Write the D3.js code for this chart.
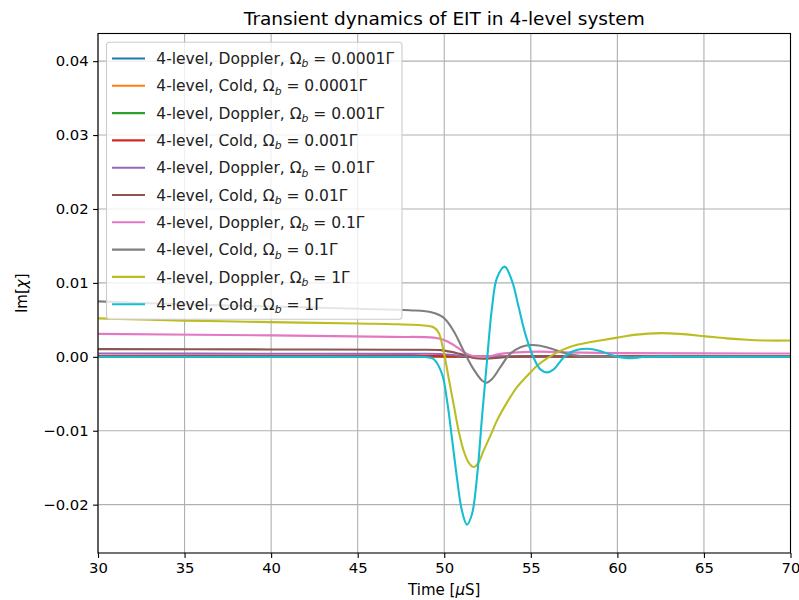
<!DOCTYPE html>
<html>
<head>
<meta charset="utf-8">
<script src="https://cdn.jsdelivr.net/npm/d3@7"></script>
<style>
  html, body { margin: 0; padding: 0; background: #fff; }
  svg { display: block; font-family: "DejaVu Sans", sans-serif; }
</style>
</head>
<body>
<svg id="chart" width="799" height="600"></svg>
<script>
// Tick values
const xTicks = [30, 35, 40, 45, 50, 55, 60, 65, 70];
const yTicks = [-0.02, -0.01, 0.00, 0.01, 0.02, 0.03, 0.04];

// Legend labels: [prefix, coupling strength]
const seriesNames = [
  ["4-level, Doppler, ", "0.0001"],
  ["4-level, Cold, ", "0.0001"],
  ["4-level, Doppler, ", "0.001"],
  ["4-level, Cold, ", "0.001"],
  ["4-level, Doppler, ", "0.01"],
  ["4-level, Cold, ", "0.01"],
  ["4-level, Doppler, ", "0.1"],
  ["4-level, Cold, ", "0.1"],
  ["4-level, Doppler, ", "1"],
  ["4-level, Cold, ", "1"]
];
const seriesColors = ["#1f77b4", "#ff7f0e", "#2ca02c", "#d62728", "#9467bd",
                      "#8c564b", "#e377c2", "#7f7f7f", "#bcbd22", "#17becf"];

// Time samples (µs) shared by the weak-probe traces
const tWeak = [30, 40, 48, 49.8, 50.9, 51.8, 53, 55, 70];
const vDoppler00001 = [0.000004, 0.000004, 0.000004, 0.000004, 0.000002, 0, 0, 0.000001, 0.000001];
const vCold00001    = [0.00001, 0.00001, 0.00001, 0.00001, 0.000005, 0, 0, 0.000002, 0.000002];
const vDoppler0001  = [0.00004, 0.00004, 0.000038, 0.000036, 0.000015, 0, 0, 0.000005, 0.000005];
const vCold0001     = [0.00012, 0.00011, 0.0001, 0.0001, 0.00004, 0, 0, 0.00001, 0.00001];
const vDoppler001   = [0.00045, 0.00042, 0.0004, 0.00038, 0.00015, -0.00002, 0.00003, 0.00005, 0.00005];

// Cold, Ωb = 0.01Γ
const tCold001 = [30, 40, 48, 49.8, 50.9, 51.8, 52.8, 53.8, 55, 57, 70];
const vCold001 = [0.00104, 0.001, 0.00095, 0.0009, 0.0004, -0.0002, -0.0002, 0.0000, 0.0001, 0.0001, 0.0001];

// Doppler, Ωb = 0.1Γ
const tDoppler01 = [30, 40, 47, 49.4, 49.96, 50.4, 50.73, 51.31, 51.89, 52.5, 53.24, 54.2, 55.5, 57, 60, 70];
const vDoppler01 = [0.0031, 0.0029, 0.0027, 0.0026, 0.0023, 0.0018, 0.0013, 0.0004, 0.0000, 0.0000, 0.0004, 0.0006, 0.0007, 0.0006, 0.0005, 0.00045];

// Cold, Ωb = 0.1Γ
const tCold01 = [30, 35, 40, 45, 48, 49.3, 49.96, 50.54, 51.12, 51.7, 52.18, 52.43, 52.76, 53.24, 53.8, 54.4, 54.97, 55.55, 56.32, 57.1, 57.9, 59, 62, 70];
const vCold01 = [0.0075, 0.0071, 0.0068, 0.0065, 0.0063, 0.0060, 0.0053, 0.0035, 0.0008, -0.0017, -0.0032, -0.0035, -0.0030, -0.0014, 0.0004, 0.0013, 0.0016, 0.0015, 0.0010, 0.0004, 0.0001, 0.00003, 0, 0];

// Doppler, Ωb = 1Γ
const tDoppler1 = [30, 35, 40, 45, 47.3, 49.0, 49.38, 49.67, 49.96, 50.25, 50.54, 50.83, 51.12, 51.41, 51.70, 51.98, 52.27, 52.66, 53.05, 53.62, 54.2, 54.78, 55.36, 55.94, 56.7, 57.47, 58.25, 59.0, 60.0, 61.1, 62.5, 63.6, 65.0, 66.3, 67.5, 68.65, 70];
const vDoppler1 = [0.0052, 0.0049, 0.0047, 0.0045, 0.0044, 0.0042, 0.0040, 0.0033, 0.0008, -0.0028, -0.0064, -0.0100, -0.0127, -0.0143, -0.0149, -0.0143, -0.0127, -0.0107, -0.0086, -0.0062, -0.0041, -0.0026, -0.0012, -0.0002, 0.0008, 0.0015, 0.0019, 0.0022, 0.0026, 0.0030, 0.0032, 0.0031, 0.0028, 0.0025, 0.0023, 0.0022, 0.0022];

// Cold, Ωb = 1Γ
const tCold1 = [30, 40, 47.46, 49.0, 49.38, 49.87, 50.16, 50.44, 50.73, 51.02, 51.31, 51.6, 51.89, 52.18, 52.47, 52.76, 53.05, 53.49, 53.91, 54.30, 54.68, 55.16, 55.55, 55.94, 56.32, 56.9, 57.47, 58.25, 59.0, 59.8, 60.56, 61.7, 65, 70];
const vCold1 = [0, 0, 0, -0.00005, -0.0003, -0.0023, -0.0059, -0.0109, -0.0163, -0.0208, -0.0227, -0.0213, -0.0163, -0.0082, -0.0005, 0.0067, 0.0107, 0.0122, 0.0103, 0.0067, 0.0031, -0.0001, -0.0017, -0.0021, -0.0017, -0.0001, 0.0008, 0.0011, 0.0008, 0.00014, -0.00018, 0, 0, 0];

const seriesT = [tWeak, tWeak, tWeak, tWeak, tWeak, tCold001, tDoppler01, tCold01, tDoppler1, tCold1];
const seriesV = [vDoppler00001, vCold00001, vDoppler0001, vCold0001, vDoppler001,
                 vCold001, vDoppler01, vCold01, vDoppler1, vCold1];

const series = seriesNames.map((n, i) => ({
  prefix: n[0], omega: n[1], color: seriesColors[i],
  points: seriesT[i].map((t, j) => [t, seriesV[i][j]])
}));

// Layout
const plot = { left: 98, right: 790.5, top: 33.5, bottom: 553 };
const svg = d3.select("#chart");

const x = d3.scaleLinear().domain([30, 70]).range([plot.left, plot.right]);
const y = d3.scaleLinear().domain([-0.02654, 0.04374]).range([plot.bottom, plot.top]);

// Grid
const grid = svg.append("g").attr("stroke", "#b0b0b0").attr("stroke-width", 1.1);
grid.selectAll("line.gx").data(xTicks).join("line")
  .attr("x1", d => x(d)).attr("x2", d => x(d))
  .attr("y1", plot.top).attr("y2", plot.bottom);
grid.selectAll("line.gy").data(yTicks).join("line")
  .attr("x1", plot.left).attr("x2", plot.right)
  .attr("y1", d => y(d)).attr("y2", d => y(d));

// Clip for curves
svg.append("defs").append("clipPath").attr("id", "plotClip")
  .append("rect")
  .attr("x", plot.left).attr("y", plot.top)
  .attr("width", plot.right - plot.left).attr("height", plot.bottom - plot.top);

const line = d3.line()
  .x(d => x(d[0])).y(d => y(d[1]))
  .curve(d3.curveCatmullRom.alpha(0.5));

svg.append("g").attr("clip-path", "url(#plotClip)")
  .selectAll("path").data(series).join("path")
  .attr("d", d => line(d.points))
  .attr("fill", "none")
  .attr("stroke", d => d.color)
  .attr("stroke-width", 2.1)
  .attr("stroke-linejoin", "round")
  .attr("stroke-linecap", "square");

// Axes
const tickFont = "14.8px";
const xAxis = d3.axisBottom(x).tickValues(xTicks).tickFormat(d3.format("d"))
  .tickSize(4.9).tickPadding(4.2);
const yAxis = d3.axisLeft(y).tickValues(yTicks).tickFormat(d3.format(".2f"))
  .tickSize(4.9).tickPadding(4.5);

const gx = svg.append("g").attr("transform", `translate(0,${plot.bottom})`).call(xAxis);
const gy = svg.append("g").attr("transform", `translate(${plot.left},0)`).call(yAxis);
[gx, gy].forEach(g => {
  g.select(".domain").remove();
  g.selectAll(".tick line").attr("stroke", "#000").attr("stroke-width", 1.1);
  g.selectAll(".tick text").attr("fill", "#000")
    .attr("font-size", tickFont).attr("font-family", "DejaVu Sans, sans-serif");
});

// Frame
svg.append("rect")
  .attr("x", plot.left).attr("y", plot.top)
  .attr("width", plot.right - plot.left).attr("height", plot.bottom - plot.top)
  .attr("fill", "none").attr("stroke", "#000").attr("stroke-width", 1.1);

// Title and axis labels
const cx = (plot.left + plot.right) / 2;
svg.append("text").attr("x", cx).attr("y", 24.5)
  .attr("text-anchor", "middle").attr("font-size", "18.5px").attr("fill", "#000")
  .text("Transient dynamics of EIT in 4-level system");

const xl = svg.append("text").attr("x", cx).attr("y", 595)
  .attr("text-anchor", "middle").attr("font-size", "15px").attr("fill", "#000");
xl.append("tspan").text("Time [");
xl.append("tspan").attr("font-style", "italic").text("μ");
xl.append("tspan").text("S]");

const yl = svg.append("text")
  .attr("transform", `translate(27,${(plot.top + plot.bottom) / 2}) rotate(-90)`)
  .attr("text-anchor", "middle").attr("font-size", "15px").attr("fill", "#000");
yl.append("tspan").text("Im[");
yl.append("tspan").attr("font-style", "italic").text("χ");
yl.append("tspan").text("]");

// Legend
const leg = { x: 106.5, y: 42.3, w: 295.5, h: 277, row0: 58.5, rowStep: 27.3 };
const lg = svg.append("g");
lg.append("rect")
  .attr("x", leg.x).attr("y", leg.y).attr("width", leg.w).attr("height", leg.h)
  .attr("rx", 3).attr("ry", 3)
  .attr("fill", "#fff").attr("fill-opacity", 0.8)
  .attr("stroke", "#cccccc").attr("stroke-width", 1.1);

const rows = lg.selectAll("g.row").data(series).join("g")
  .attr("transform", (d, i) => `translate(0,${leg.row0 + i * leg.rowStep})`);
rows.append("line")
  .attr("x1", 112).attr("x2", 145).attr("y1", 0).attr("y2", 0)
  .attr("stroke", d => d.color).attr("stroke-width", 2.1);
const lt = rows.append("text")
  .attr("x", 156.3).attr("y", 5.6)
  .attr("font-size", "15.5px").attr("fill", "#222");
lt.append("tspan").text(d => d.prefix + "Ω");
lt.append("tspan").attr("font-style", "italic").attr("font-size", "10.8px").attr("dy", 3.3).text("b");
lt.append("tspan").attr("dy", -3.3).text(d => " = " + d.omega + "Γ");
</script>
</body>
</html>
